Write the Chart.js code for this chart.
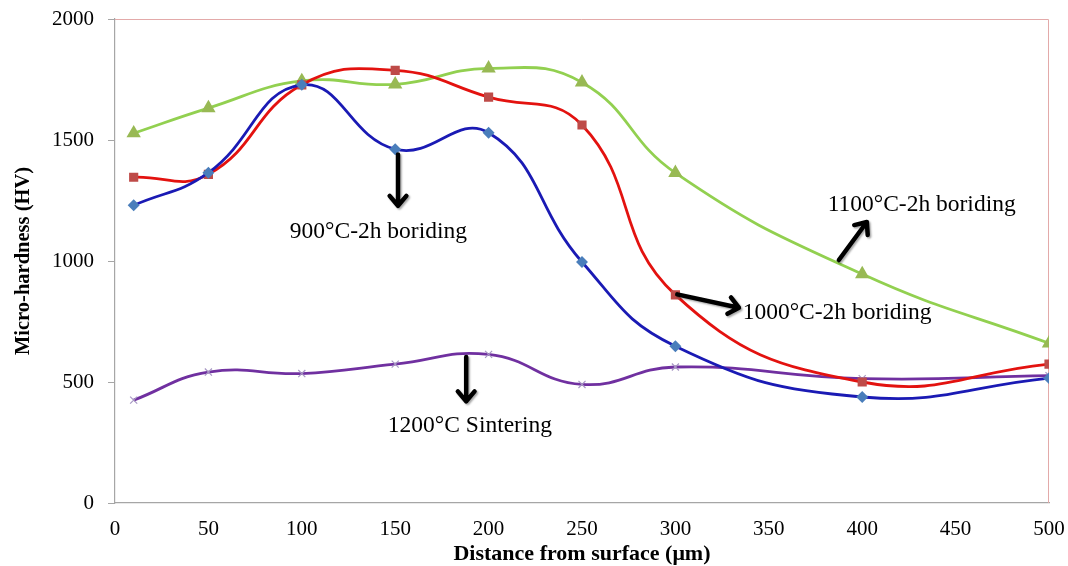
<!DOCTYPE html>
<html>
<head>
<meta charset="utf-8">
<script src="https://cdn.jsdelivr.net/npm/chart.js@4.4.0/dist/chart.umd.min.js"></script>
<style>
  html, body { margin: 0; padding: 0; background: #fff; }
  #wrap { width: 1068px; height: 566px; }
</style>
</head>
<body>
<div id="wrap"><canvas id="hardnessChart" width="1068" height="566"></canvas></div>
<script>
// distance from surface (um)
const distances = [10, 50, 100, 150, 200, 250, 300, 400, 500];

// micro-hardness (HV)
const boriding900 = [1230, 1365, 1728, 1462, 1530, 996, 648, 438, 516];
const boriding1000 = [1346, 1358, 1728, 1788, 1677, 1562, 860, 500, 574];
const boriding1100 = [1528, 1632, 1744, 1730, 1796, 1738, 1364, 946, 660];
const sintering1200 = [425, 541, 535, 574, 614, 490, 562, 514, 526];

const yTicks = [0, 500, 1000, 1500, 2000];
const xTicks = [0, 50, 100, 150, 200, 250, 300, 350, 400, 450, 500];

// callouts: text, text anchor (x, y), arrow from (x, y) to (x, y)
const callouts = [
  { text: '900°C-2h boriding', tx: 141, ty: 1120, align: 'center', from: [151.5, 1440], to: [151.5, 1228] },
  { text: '1000°C-2h boriding', tx: 336, ty: 785, align: 'left', from: [301, 862], to: [334, 807] },
  { text: '1100°C-2h boriding', tx: 381.5, ty: 1231, align: 'left', from: [387.5, 1004], to: [402.5, 1161] },
  { text: '1200°C Sintering', tx: 190, ty: 318, align: 'center', from: [188, 603], to: [188, 420] }
];

function pts(ys) {
  return distances.map((d, i) => ({ x: d, y: ys[i] }));
}

const serif = '"Liberation Serif", "Times New Roman", serif';

// pink frame on top/right of the plot area, like the original
const framePlugin = {
  id: 'frame',
  beforeDatasetsDraw(chart) {
    const { ctx, chartArea: a } = chart;
    ctx.save();
    ctx.strokeStyle = '#e3aaa9';
    ctx.lineWidth = 1;
    ctx.beginPath();
    ctx.moveTo(a.left, a.top + 0.5);
    ctx.lineTo(a.right - 0.5, a.top + 0.5);
    ctx.lineTo(a.right - 0.5, a.bottom);
    ctx.stroke();
    ctx.restore();
  }
};

function arrow(ctx, x1, y1, x2, y2) {
  const ang = Math.atan2(y2 - y1, x2 - x1);
  const head = 13;
  ctx.beginPath();
  ctx.moveTo(x1, y1);
  ctx.lineTo(x2, y2);
  ctx.moveTo(x2 - head * Math.cos(ang - 0.7), y2 - head * Math.sin(ang - 0.7));
  ctx.lineTo(x2, y2);
  ctx.lineTo(x2 - head * Math.cos(ang + 0.7), y2 - head * Math.sin(ang + 0.7));
  ctx.stroke();
}

const calloutPlugin = {
  id: 'callouts',
  afterDatasetsDraw(chart) {
    const { ctx } = chart;
    const xs = chart.scales.x, ys = chart.scales.y;
    ctx.save();
    ctx.strokeStyle = '#000';
    ctx.lineWidth = 4.5;
    ctx.lineCap = 'round';
    ctx.lineJoin = 'round';
    ctx.shadowColor = 'rgba(0,0,0,0.35)';
    ctx.shadowOffsetX = 1.5;
    ctx.shadowOffsetY = 1.5;
    ctx.shadowBlur = 2;
    callouts.forEach(c => {
      arrow(ctx,
        xs.getPixelForValue(c.from[0]), ys.getPixelForValue(c.from[1]),
        xs.getPixelForValue(c.to[0]), ys.getPixelForValue(c.to[1]));
    });
    ctx.shadowColor = 'transparent';
    ctx.fillStyle = '#000';
    ctx.font = '23.5px ' + serif;
    ctx.textBaseline = 'middle';
    callouts.forEach(c => {
      ctx.textAlign = c.align;
      ctx.fillText(c.text, xs.getPixelForValue(c.tx), ys.getPixelForValue(c.ty));
    });
    ctx.restore();
  }
};

const ctx = document.getElementById('hardnessChart').getContext('2d');
new Chart(ctx, {
  type: 'line',
  data: {
    datasets: [
      {
        label: '900°C-2h boriding',
        data: pts(boriding900),
        borderColor: '#1a1ab4',
        backgroundColor: '#4a7ebb',
        pointBackgroundColor: '#4a7ebb',
        pointBorderColor: '#4a7ebb',
        pointStyle: 'rectRot',
        pointRadius: 4,
        borderWidth: 2.8
      },
      {
        label: '1000°C-2h boriding',
        data: pts(boriding1000),
        borderColor: '#e3120f',
        backgroundColor: '#be4b48',
        pointBackgroundColor: '#be4b48',
        pointBorderColor: '#be4b48',
        pointStyle: 'rect',
        pointRadius: 4.5,
        borderWidth: 2.8
      },
      {
        label: '1100°C-2h boriding',
        data: pts(boriding1100),
        borderColor: '#92d050',
        backgroundColor: '#98b954',
        pointBackgroundColor: '#98b954',
        pointBorderColor: '#98b954',
        pointStyle: 'triangle',
        pointRadius: 5.5,
        borderWidth: 2.8
      },
      {
        label: '1200°C Sintering',
        data: pts(sintering1200),
        borderColor: '#7030a0',
        backgroundColor: '#a898c4',
        pointBackgroundColor: '#a898c4',
        pointBorderColor: '#a898c4',
        pointStyle: 'crossRot',
        pointRadius: 5,
        pointBorderWidth: 1.2,
        borderWidth: 2.8
      }
    ]
  },
  options: {
    responsive: false,
    animation: false,
    devicePixelRatio: 1,
    layout: { padding: { top: 19, right: 19, left: 0, bottom: 0 } },
    elements: { line: { tension: 0.45, fill: false } },
    plugins: {
      legend: { display: false },
      tooltip: { enabled: false }
    },
    scales: {
      x: {
        type: 'linear',
        min: 0,
        max: 500,
        afterBuildTicks: s => { s.ticks = xTicks.map(v => ({ value: v })); },
        afterFit: s => { s.height = 63; s.paddingLeft = 0; s.paddingRight = 0; },
        grid: { display: false, drawTicks: false },
        border: { color: '#a6a6a6', width: 1.2 },
        ticks: {
          padding: 14,
          color: '#000',
          font: { family: serif, size: 21 },
          maxRotation: 0,
          callback: v => String(v)
        },
        title: {
          display: true,
          text: 'Distance from surface (μm)',
          color: '#000',
          font: { family: serif, size: 22, weight: 'bold', lineHeight: 1.1 },
          padding: { top: 0, bottom: 0 }
        }
      },
      y: {
        min: 0,
        max: 2000,
        afterBuildTicks: s => { s.ticks = yTicks.map(v => ({ value: v })); },
        afterFit: s => { s.width = 115; s.paddingTop = 0; s.paddingBottom = 0; },
        grid: { drawOnChartArea: false, drawTicks: true, tickLength: 7, color: '#a6a6a6' },
        border: { color: '#a6a6a6', width: 1.2 },
        ticks: {
          padding: 14,
          color: '#000',
          font: { family: serif, size: 21 },
          callback: v => String(v)
        },
        title: {
          display: true,
          text: 'Micro-hardness (HV)',
          color: '#000',
          font: { family: serif, size: 20.5, weight: 'bold' },
          padding: { top: 11, bottom: 0 }
        }
      }
    }
  },
  plugins: [framePlugin, calloutPlugin]
});
</script>
</body>
</html>
